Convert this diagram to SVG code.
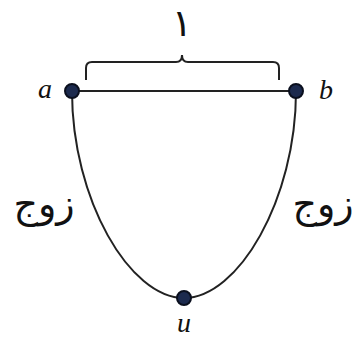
<svg xmlns="http://www.w3.org/2000/svg" width="355" height="337" viewBox="0 0 355 337">
<style>
.edge{fill:none;stroke:#222;stroke-width:2}
.node{fill:#1c2a4e;stroke:#0a0f1e;stroke-width:2}
.lbl{font-family:"Liberation Serif",serif;font-style:italic;font-size:28px;fill:#111}
.ar{font-family:"DejaVu Sans",sans-serif;font-size:38px;fill:#111}
</style>
<rect width="355" height="337" fill="#fff"/>
<g id="connectors">
<path class="edge" d="M72,91 L296,91"/>
<path class="edge" d="M72,91 C72,200 130,298 184,298 C238,298 296,200 296,91"/>
<path class="edge" d="M86,80 L86,68 Q86,62 92,62 L176,62 Q182,62 182,55 Q182,62 188,62 L273,62 Q279,62 279,68 L279,80"/>
</g>
<text class="ar" x="182" y="36" text-anchor="middle" font-size="44">۱</text>
<g id="a"><circle class="node" cx="72" cy="91" r="7"/><text class="lbl" x="45" y="98" text-anchor="middle">a</text></g>
<g id="b"><circle class="node" cx="296" cy="91" r="7"/><text class="lbl" x="326" y="99" text-anchor="middle">b</text></g>
<g id="u"><circle class="node" cx="184" cy="298" r="7"/><text class="lbl" x="184" y="332" text-anchor="middle">u</text></g>
<text class="ar" x="44" y="217" text-anchor="middle">زوج</text>
<text class="ar" x="323" y="217" text-anchor="middle">زوج</text>
</svg>
